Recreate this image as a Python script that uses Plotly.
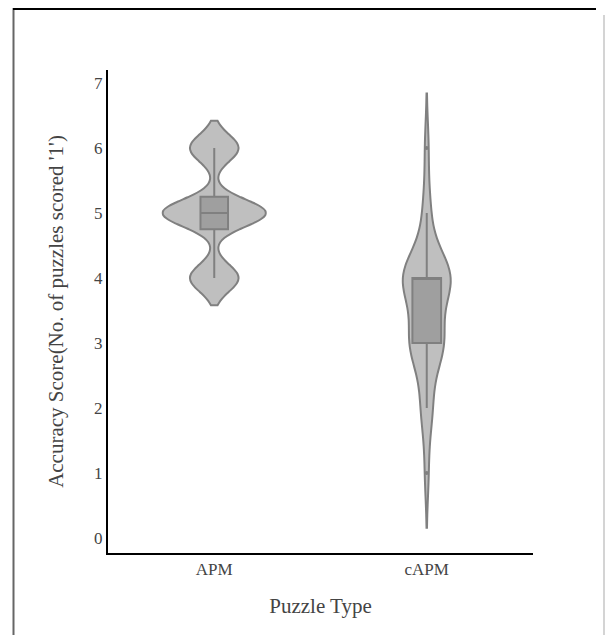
import plotly.graph_objects as go

# Data: accuracy scores (integer counts of puzzles scored '1')
categories = ["APM", "cAPM"]
score_values = [1, 2, 3, 4, 5, 6]
apm_counts = [0, 0, 0, 8, 17, 8]
capm_counts = [1, 3, 9, 13, 2, 1]

y_ticks = [0, 1, 2, 3, 4, 5, 6, 7]


def expand(values, counts):
    out = []
    for v, c in zip(values, counts):
        out += [v] * c
    return out


apm_scores = expand(score_values, apm_counts)
capm_scores = expand(score_values, capm_counts)

fig = go.Figure()
common = dict(
    line=dict(color="gray", width=2),
    points="outliers",
    pointpos=0,
    jitter=0,
    marker=dict(color="gray", size=4),
    spanmode="soft",
    showlegend=False,
    hoverinfo="skip",
)
fig.add_trace(go.Violin(x=[categories[0]] * len(apm_scores), y=apm_scores,
                        bandwidth=0.21, width=0.48, scalegroup="a",
                        box=dict(visible=True, width=0.27), **common))
fig.add_trace(go.Violin(x=[categories[1]] * len(capm_scores), y=capm_scores,
                        bandwidth=0.42, width=0.225, scalegroup="b",
                        box=dict(visible=True, width=0.6), **common))

font_family = "Liberation Serif, Times New Roman, serif"

W, H = 611, 635
l, r, t, b = 108, 78, 70, 82

fig.update_layout(
    width=W, height=H,
    margin=dict(l=l, r=r, t=t, b=b),
    plot_bgcolor="white", paper_bgcolor="white",
    font=dict(family=font_family, size=17, color="#444"),
    violingap=0, violinmode="overlay",
    xaxis=dict(
        range=[-0.5, 1.5], showline=True, linecolor="black", linewidth=2,
        showgrid=False, zeroline=False, ticks="",
        title=dict(text="Puzzle Type", font=dict(size=21, color="#444"), standoff=20),
        tickfont=dict(size=17, color="#444"),
        categoryorder="array", categoryarray=categories,
    ),
    yaxis=dict(
        range=[-0.23, 7.2], showline=True, linecolor="black", linewidth=2,
        showgrid=False, zeroline=False, ticks="",
        tickvals=y_ticks,
        title=dict(text="Accuracy Score(No. of puzzles scored '1')",
                   font=dict(size=21, color="#444"), standoff=25),
        tickfont=dict(size=17, color="#444"),
    ),
)

# thin frame lines around the picture
pw, ph = W - l - r, H - t - b


def px_x(x):
    return (x - l) / pw


def px_y(y):
    return 1 - (y - t) / ph


fig.add_shape(type="rect", xref="paper", yref="paper",
              x0=px_x(12.5), x1=px_x(14.5), y0=px_y(8), y1=px_y(640),
              line=dict(width=0), fillcolor="#666")
fig.add_shape(type="rect", xref="paper", yref="paper",
              x0=px_x(13), x1=px_x(596), y0=px_y(10), y1=px_y(8),
              line=dict(width=0), fillcolor="black")
fig.add_shape(type="rect", xref="paper", yref="paper",
              x0=px_x(603.5), x1=px_x(604.5), y0=px_y(15), y1=px_y(640),
              line=dict(width=0), fillcolor="#aaa")

fig.write_html(
    "out.html",
    config={"displayModeBar": False},
    post_script="document.body.style.margin='0';document.body.style.overflow='hidden';",
)
